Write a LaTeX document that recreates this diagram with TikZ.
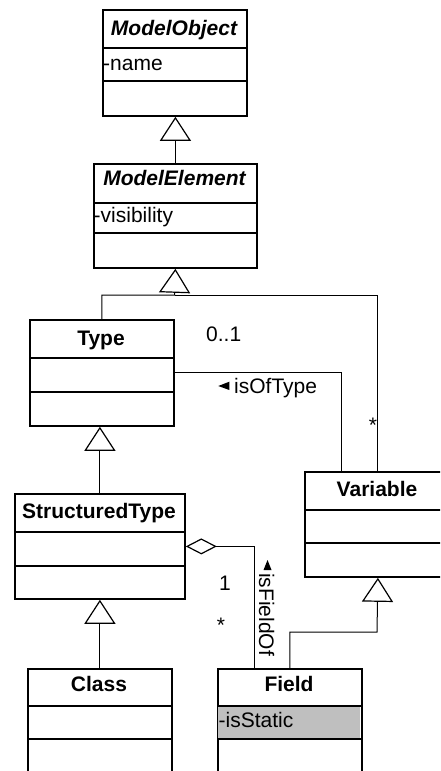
\documentclass[tikz,border=0pt]{standalone}
\usepackage{fontspec}
\setmainfont{Liberation Sans}
\usetikzlibrary{arrows.meta}
\begin{document}
\begin{tikzpicture}[x=1pt,y=-1pt,
  font=\fontsize{21}{25}\selectfont,
  classbox/.style={draw, line width=1.8pt, fill=white, inner sep=0pt, anchor=north west},
  compsep/.style={line width=1.8pt},
  classtitle/.style={anchor=base, inner sep=0pt, font=\fontsize{21}{25}\selectfont\bfseries},
  abstitle/.style={anchor=base, inner sep=0pt, font=\fontsize{21}{25}\selectfont\bfseries\itshape},
  attr/.style={anchor=base west, inner sep=0pt},
  lbl/.style={anchor=base west, inner sep=0pt},
  mult/.style={anchor=base, inner sep=0pt},
  conn/.style={line width=1pt},
  gen/.style={conn, -{Triangle[open, width=31pt, length=24pt, line width=1.2pt]}},
  agg/.style={conn, -{Diamond[open, width=16pt, length=31pt, line width=1.2pt]}},
]
\useasboundingbox (0,0) rectangle (440,771);
\fill[white] (0,0) rectangle (440,771);
\clip (0,0) rectangle (440,771);

% ModelObject (abstract)
\node[classbox, minimum width=144pt, minimum height=106pt] (mobj) at (102,9) {};
\draw[compsep] (102,48) -- (246,48);
\draw[compsep] (102,81) -- (246,81);
\node[abstitle] (mobjt) at (174,35) {ModelObject};
\node[attr] (mobja) at (103,70.7) {-name};

% ModelElement (abstract)
\node[classbox, minimum width=163pt, minimum height=104pt] (melem) at (93,163) {};
\draw[compsep] (93,203) -- (256,203);
\draw[compsep] (93,233) -- (256,233);
\node[abstitle] (melemt) at (174.5,185) {ModelElement};
\node[attr] (melema) at (93.5,222.7) {-visibility};

% Type
\node[classbox, minimum width=144pt, minimum height=106pt] (type) at (29,319) {};
\draw[compsep] (29,358) -- (173,358);
\draw[compsep] (29,392) -- (173,392);
\node[classtitle] (typet) at (101,345) {Type};

% StructuredType
\node[classbox, minimum width=170pt, minimum height=105pt] (stype) at (14,493) {};
\draw[compsep] (14,532) -- (184,532);
\draw[compsep] (14,566) -- (184,566);
\node[classtitle] (stypet) at (99,518) {StructuredType};

% Variable
\node[classbox, minimum width=146pt, minimum height=105pt] (var) at (304,471) {};
\draw[compsep] (304,510) -- (450,510);
\draw[compsep] (304,543) -- (450,543);
\node[classtitle] (vart) at (377,496.5) {Variable};

% Class
\node[classbox, minimum width=144pt, minimum height=122pt] (class) at (27,668) {};
\draw[compsep] (27,706) -- (171,706);
\draw[compsep] (27,739) -- (171,739);
\node[classtitle] (classt) at (99,691.7) {Class};

% Field, with its attribute compartment shaded
\node[classbox, minimum width=144pt, minimum height=122pt] (field) at (217,668) {};
\fill[black!25] (217.9,706) rectangle (360.1,739);
\draw[compsep] (217,706) -- (361,706);
\draw[compsep] (217,739) -- (361,739);
\node[classtitle] (fieldt) at (289,691.7) {Field};
\node[attr] (fielda) at (218.5,727.7) {-isStatic};

% generalizations
\draw[gen] (melem.north) -- (melem.north |- mobj.south);
\coordinate (j1) at (174.5,295);
\draw[gen] (type.north) |- (j1) -- (melem.south);
\draw[conn] (var.north) |- (j1);
\draw[gen] (stype.north) -- (stype.north |- type.south);
\draw[gen] (class.north) -- (stype.south);
\coordinate (j2) at (377,632);
\draw[gen] (field.north) |- (j2) -- (var.south);

% association isOfType
\coordinate (v1) at (341,471);
\draw[conn] (type.east) -| (v1);
\node[lbl] (m01) at (206,341.7) {0..1};
\fill (229.3,381.7) -- (229.3,390) -- (218.3,386) -- cycle;
\node[lbl] (ioft) at (234,393) {isOfType};
\node[mult] (mvar) at (373,432) {*};

% aggregation isFieldOf
\coordinate (f1) at (254,668);
\draw[agg] (f1) |- (stype.east);
\node[mult] (m1) at (225,590) {1};
\node[mult] (mfld) at (221,632) {*};
\fill (267.5,560) -- (271.5,570) -- (263.5,570) -- cycle;
\node[lbl, rotate=-90] (ifo) at (259,573) {isFieldOf};
\end{tikzpicture}
\end{document}
